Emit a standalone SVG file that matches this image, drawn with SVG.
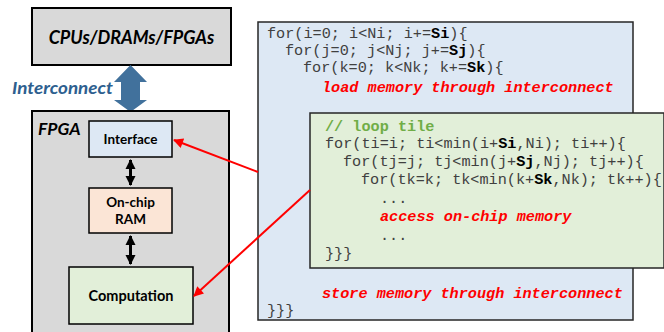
<svg xmlns="http://www.w3.org/2000/svg" width="664" height="332" viewBox="0 0 664 332">
<style>
.box{stroke:#000;stroke-width:2}
.lbl{font-family:Lato,"Liberation Sans",sans-serif;font-weight:bold;fill:#000}
.code{font-family:"Liberation Mono","DejaVu Sans Mono",monospace;font-size:15.2px;fill:#404040}
.b{font-weight:bold;fill:#000}
.red{font-weight:bold;font-style:italic;fill:#ff0000}
.cmt{font-weight:bold;fill:#70ad47}
.conn{stroke:#ff0000;stroke-width:2;fill:none}
.blk{stroke:#000;stroke-width:3;fill:none}
</style>
<defs>
<marker id="rh" viewBox="0 0 10 10" refX="9" refY="5" markerWidth="6" markerHeight="5" orient="auto" markerUnits="strokeWidth">
<path d="M0,0 L10,5 L0,10 Z" fill="#ff0000"/>
</marker>
<marker id="bh" viewBox="0 0 10 10" refX="9" refY="5" markerWidth="3.4" markerHeight="3.4" orient="auto-start-reverse" markerUnits="strokeWidth">
<path d="M0,0 L10,5 L0,10 Z" fill="#000"/>
</marker>
</defs>
<rect width="664" height="332" fill="#fff"/>

<g id="hosts">
<rect class="box" x="32" y="8" width="199" height="57" fill="#d9d9d9"/>
<text class="lbl" x="131.5" y="44" font-size="18" font-style="italic" text-anchor="middle">CPUs/DRAMs/FPGAs</text>
</g>

<g id="interconnect">
<polygon points="130.5,65 147,82 140,82 140,100 147,100 130.5,112 114,100 121,100 121,82 114,82" fill="#41719c"/>
<text x="12" y="94" font-family="Lato,'Liberation Sans',sans-serif" font-weight="bold" font-style="italic" font-size="17" fill="#2e5f8f" textLength="101" lengthAdjust="spacingAndGlyphs">Interconnect</text>
</g>

<g id="fpga">
<rect class="box" x="32" y="111" width="197" height="230" fill="#d9d9d9"/>
<text class="lbl" x="38" y="135" font-size="17.5" font-style="italic">FPGA</text>
</g>

<g id="interface">
<rect x="89" y="121" width="83" height="36" fill="#dde8f4" stroke="#000" stroke-width="1.5"/>
<text class="lbl" x="130.5" y="144" font-size="13.5" text-anchor="middle">Interface</text>
</g>

<g id="onchip">
<rect x="89" y="188" width="83" height="45" fill="#fbe5d6" stroke="#000" stroke-width="1.5"/>
<text class="lbl" x="130.5" y="207" font-size="13.5" text-anchor="middle">On-chip</text>
<text class="lbl" x="130.5" y="224" font-size="13.5" text-anchor="middle">RAM</text>
</g>

<g id="computation">
<rect x="69" y="267" width="124" height="57" fill="#e2efd9" stroke="#000" stroke-width="1.5"/>
<text class="lbl" x="131" y="301" font-size="14.5" text-anchor="middle">Computation</text>
</g>

<g id="outer-loop">
<rect x="258" y="22" width="375" height="298" fill="#dde8f4" stroke="#262626" stroke-width="1.5"/>
<text class="code" x="267" y="38">for(i=0; i&lt;Ni; i+=<tspan class="b">Si</tspan>){</text>
<text class="code" x="285" y="55">for(j=0; j&lt;Nj; j+=<tspan class="b">Sj</tspan>){</text>
<text class="code" x="303" y="72">for(k=0; k&lt;Nk; k+=<tspan class="b">Sk</tspan>){</text>
<text class="code red" x="322" y="92">load memory through interconnect</text>
<text class="code red" x="322" y="298">store memory through interconnect</text>
<text class="code" x="267" y="315">}}}</text>
</g>

<g id="loop-tile">
<rect x="310" y="113" width="354" height="155" fill="#e2efd9" stroke="#262626" stroke-width="1.5"/>
<text class="code cmt" x="325" y="131">// loop tile</text>
<text class="code" x="325" y="148">for(ti=i; ti&lt;min(i+<tspan class="b">Si</tspan>,Ni); ti++){</text>
<text class="code" x="343" y="166">for(tj=j; tj&lt;min(j+<tspan class="b">Sj</tspan>,Nj); tj++){</text>
<text class="code" x="361" y="184">for(tk=k; tk&lt;min(k+<tspan class="b">Sk</tspan>,Nk); tk++){</text>
<text class="code" x="380" y="203">...</text>
<text class="code red" x="380" y="221">access on-chip memory</text>
<text class="code" x="380" y="240">...</text>
<text class="code" x="325" y="258">}}}</text>
</g>

<g id="connectors">
<line class="blk" x1="130.5" y1="160" x2="130.5" y2="185" marker-start="url(#bh)" marker-end="url(#bh)"/>
<line class="blk" x1="130.5" y1="236" x2="130.5" y2="264" marker-start="url(#bh)" marker-end="url(#bh)"/>
<line class="conn" x1="258" y1="172" x2="174" y2="140" marker-end="url(#rh)"/>
<line class="conn" x1="310" y1="190" x2="194" y2="296" marker-end="url(#rh)"/>
</g>
</svg>
